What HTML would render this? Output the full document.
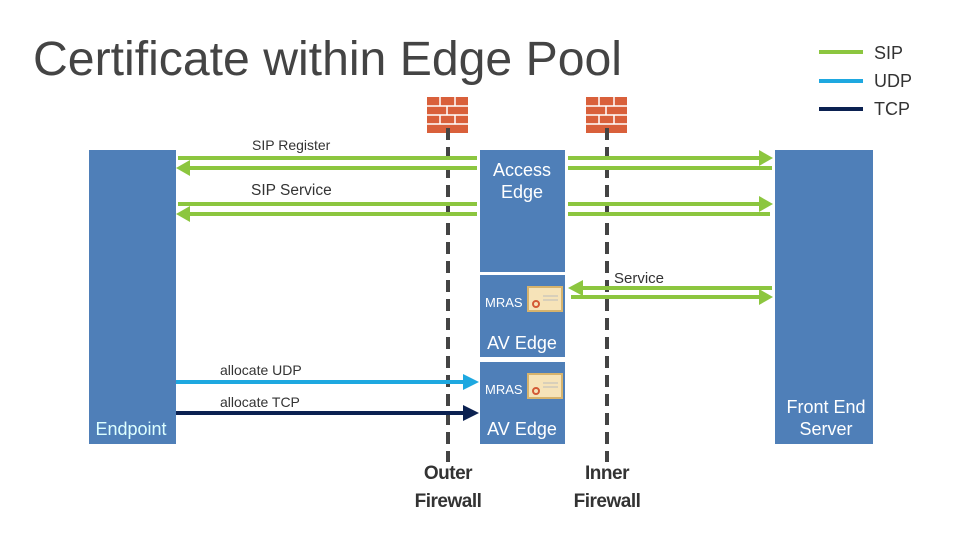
<!DOCTYPE html>
<html><head><meta charset="utf-8"><style>
body{margin:0;background:#fff;}
svg text{font-family:"Liberation Sans",sans-serif;}
</style></head><body>
<svg width="979" height="551" viewBox="0 0 979 551" xmlns="http://www.w3.org/2000/svg">
<text x="33" y="75" font-size="48" fill="#444" textLength="589" lengthAdjust="spacingAndGlyphs">Certificate within Edge Pool</text>
<!-- legend -->
<rect x="819" y="50" width="44" height="4" fill="#8cc63f"/>
<rect x="819" y="79" width="44" height="4" fill="#1ea8e0"/>
<rect x="819" y="107" width="44" height="4" fill="#0b2151"/>
<text x="874" y="59" font-size="18" fill="#333">SIP</text>
<text x="874" y="87" font-size="18" fill="#333">UDP</text>
<text x="874" y="115" font-size="18" fill="#333">TCP</text>
<!-- boxes -->
<g fill="#4f7fb8">
<rect x="89" y="150" width="87" height="294"/>
<rect x="480" y="150" width="85" height="122"/>
<rect x="480" y="275" width="85" height="82"/>
<rect x="480" y="362" width="85" height="82"/>
<rect x="775" y="150" width="98" height="294"/>
</g>
<g fill="#fff" font-size="18" text-anchor="middle">
<text x="522" y="176">Access</text><text x="522" y="198">Edge</text>
<text x="522" y="349">AV Edge</text>
<text x="522" y="435">AV Edge</text>
<text x="826" y="413">Front End</text><text x="826" y="435">Server</text>
<text x="131" y="435" fill="#dff">Endpoint</text>
</g>
<g fill="#fff" font-size="13"><text x="485" y="307">MRAS</text><text x="485" y="394">MRAS</text></g>
<!-- certificates -->
<g>
<rect x="528" y="287" width="34" height="24" fill="#f6e3b8" stroke="#d7b36c" stroke-width="2"/>
<rect x="528" y="374" width="34" height="24" fill="#f6e3b8" stroke="#d7b36c" stroke-width="2"/>
<g stroke="#bbb" stroke-width="1"><line x1="543" y1="296" x2="558" y2="296"/><line x1="543" y1="300" x2="558" y2="300"/><line x1="543" y1="383" x2="558" y2="383"/><line x1="543" y1="387" x2="558" y2="387"/></g>
<circle cx="536" cy="304" r="3" fill="none" stroke="#d35a35" stroke-width="2"/>
<circle cx="536" cy="391" r="3" fill="none" stroke="#d35a35" stroke-width="2"/>
</g>
<!-- firewalls -->
<g fill="#d9603b">
<rect x="427" y="97" width="41" height="36"/>
<rect x="586" y="97" width="41" height="36"/>
</g>
<g stroke="#fff" stroke-width="1.5">
<line x1="427" y1="106" x2="468" y2="106"/><line x1="427" y1="115" x2="468" y2="115"/><line x1="427" y1="124" x2="468" y2="124"/>
<line x1="586" y1="106" x2="627" y2="106"/><line x1="586" y1="115" x2="627" y2="115"/><line x1="586" y1="124" x2="627" y2="124"/>
<line x1="440" y1="97" x2="440" y2="106"/><line x1="455" y1="97" x2="455" y2="106"/><line x1="447" y1="106" x2="447" y2="115"/><line x1="440" y1="115" x2="440" y2="124"/><line x1="455" y1="115" x2="455" y2="124"/>
<line x1="599" y1="97" x2="599" y2="106"/><line x1="614" y1="97" x2="614" y2="106"/><line x1="606" y1="106" x2="606" y2="115"/><line x1="599" y1="115" x2="599" y2="124"/><line x1="614" y1="115" x2="614" y2="124"/>
</g>
<g stroke="#444" stroke-width="4" stroke-dasharray="12,7">
<line x1="448" y1="128" x2="448" y2="462"/>
<line x1="607" y1="128" x2="607" y2="462"/>
</g>
<!-- SIP lines -->
<g stroke="#8cc63f" stroke-width="4">
<line x1="178" y1="158" x2="477" y2="158"/><line x1="185" y1="168" x2="477" y2="168"/>
<line x1="568" y1="158" x2="760" y2="158"/><line x1="568" y1="168" x2="772" y2="168"/>
<line x1="178" y1="204" x2="477" y2="204"/><line x1="185" y1="214" x2="477" y2="214"/>
<line x1="568" y1="204" x2="760" y2="204"/><line x1="568" y1="214" x2="770" y2="214"/>
<line x1="580" y1="288" x2="772" y2="288"/><line x1="571" y1="297" x2="760" y2="297"/>
</g>
<g fill="#8cc63f">
<polygon points="176,168 190,160 190,176"/>
<polygon points="176,214 190,206 190,222"/>
<polygon points="773,158 759,150 759,166"/>
<polygon points="773,204 759,196 759,212"/>
<polygon points="568,288 583,280 583,296"/>
<polygon points="773,297 759,289 759,305"/>
</g>
<line x1="176" y1="382" x2="465" y2="382" stroke="#1ea8e0" stroke-width="4"/>
<polygon points="479,382 463,374 463,390" fill="#1ea8e0"/>
<line x1="176" y1="413" x2="465" y2="413" stroke="#0b2151" stroke-width="4"/>
<polygon points="479,413 463,405 463,421" fill="#0b2151"/>
<g font-size="14" fill="#333">
<text x="252" y="150">SIP Register</text>
<text x="251" y="195" font-size="15.5">SIP Service</text>
<text x="614" y="283" font-size="15">Service</text>
<text x="220" y="375">allocate UDP</text>
<text x="220" y="407">allocate TCP</text>
</g>
<g font-size="19" fill="#333" text-anchor="middle" font-weight="bold" letter-spacing="-0.5">
<text x="448" y="479">Outer</text><text x="448" y="507">Firewall</text>
<text x="607" y="479">Inner</text><text x="607" y="507">Firewall</text>
</g>
</svg>
</body></html>
